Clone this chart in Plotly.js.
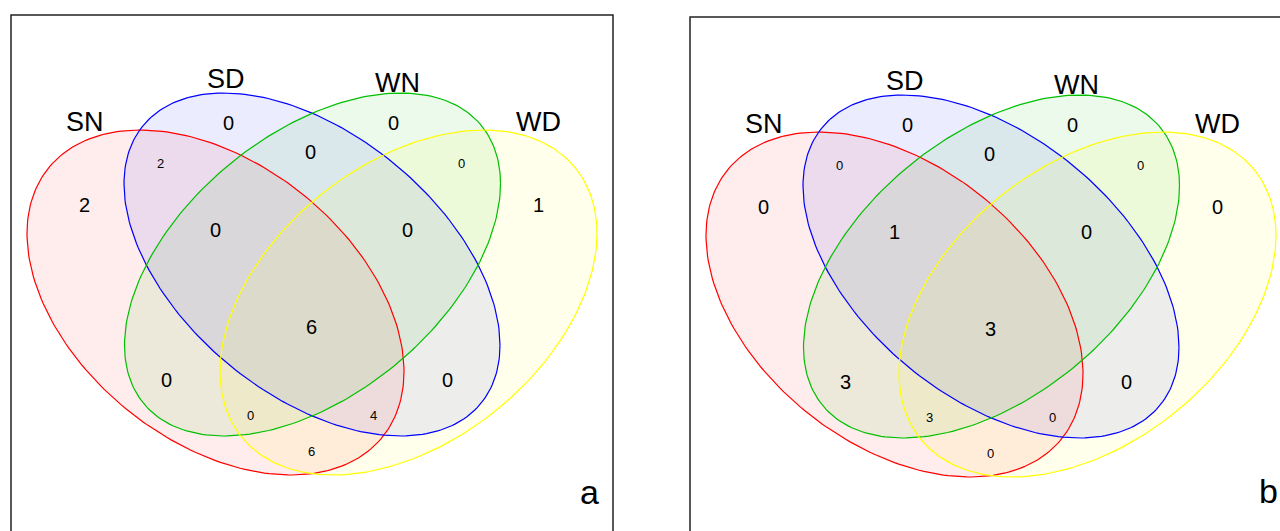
<!DOCTYPE html>
<html>
<head>
<meta charset="utf-8">
<script src="https://cdn.plot.ly/plotly-3.0.1.min.js"></script>
<style>html,body{margin:0;padding:0;background:#fff;}#chart{width:1280px;height:531px;}</style>
</head>
<body>
<div id="chart"></div>
<script>
// ---------------- DATA ----------------
const categories = ["SN", "SD", "WN", "WD"];
const regionNames = ["SD", "WN", "SN", "WD", "SN&SD", "SD&WN", "WN&WD", "SN&SD&WN", "SD&WN&WD",
                     "SN&SD&WN&WD", "SN&WN", "SD&WD", "SN&WN&WD", "SN&SD&WD", "SN&WD"];
const valuesA = [0, 0, 2, 1, 2, 0, 0, 0, 0, 6, 0, 0, 0, 4, 6];
const valuesB = [0, 0, 0, 0, 0, 0, 0, 1, 0, 3, 3, 0, 3, 0, 0];
const panelLetters = ["a", "b"];

// ---------------- GEOMETRY / STYLE ----------------
const setColors = ["#FF0000", "#0000FF", "#00C000", "#FFFF00"];
const fillAlpha = 0.075;
// ellipse: centre, x half-extent, y half-extent, phase cosine (tilt)
const ellipses = [
  {cx: 215.5, cy: 302.5, X: 188.5, Y: 172.5, c: 0.40},
  {cx: 312.0, cy: 264.5, X: 188.0, Y: 171.5, c: 0.47},
  {cx: 312.5, cy: 264.5, X: 188.0, Y: 171.5, c: -0.47},
  {cx: 408.5, cy: 302.5, X: 188.5, Y: 172.5, c: -0.40}
];
const catPos = [[84.5, 122], [226, 78.5], [397, 83], [538, 122]];
const regionPos = [[228.5,123],[393.5,123],[84,205],[538,205],[160.5,163],[310.5,152],[461.5,163],
                   [215.5,230],[407.5,230],[311,326.5],[166.5,379.5],[447.5,379.5],[250,415],[373.5,415],[311,451]];
const smallRegion = [false,false,false,false,true,false,true,false,false,false,false,false,true,true,true];
const panelOffsets = [[0, 0], [679, 2]];
const framePos = [[11, 15, 613], [690, 17, 1300]];
const letterPos = [[589, 492], [1268, 491]];

const FONT = "Liberation Sans, Arial, Helvetica, sans-serif";

function rgba(hex, a) {
  const r = parseInt(hex.slice(1,3),16), g = parseInt(hex.slice(3,5),16), b = parseInt(hex.slice(5,7),16);
  return `rgba(${r},${g},${b},${a})`;
}
function ellipsePts(e, off) {
  const phi = Math.acos(e.c);
  const xs = [], ys = [];
  const N = 240;
  for (let i = 0; i <= N; i++) {
    const t = 2 * Math.PI * i / N;
    xs.push(off[0] + e.cx + e.X * Math.cos(t));
    ys.push(off[1] + e.cy + e.Y * Math.cos(t - phi));
  }
  return {xs, ys};
}

const traces = [];
const annotations = [];
const shapes = [];
const panelValues = [valuesA, valuesB];

panelOffsets.forEach((off, p) => {
  // fills
  ellipses.forEach((e, i) => {
    const pts = ellipsePts(e, off);
    traces.push({type: "scatter", mode: "lines", x: pts.xs, y: pts.ys, fill: "toself",
      fillcolor: rgba(setColors[i], fillAlpha), line: {width: 0, color: "rgba(0,0,0,0)"},
      hoverinfo: "skip", showlegend: false});
  });
  // outlines
  ellipses.forEach((e, i) => {
    const pts = ellipsePts(e, off);
    traces.push({type: "scatter", mode: "lines", x: pts.xs, y: pts.ys,
      line: {width: 1.2, color: setColors[i]}, hoverinfo: "skip", showlegend: false});
  });
  // category labels
  categories.forEach((c, i) => {
    annotations.push({x: catPos[i][0] + off[0], y: catPos[i][1] + off[1], xref: "x", yref: "y",
      text: c, showarrow: false, xanchor: "center", yanchor: "middle",
      font: {family: FONT, size: 27, color: "#000"}});
  });
  // region counts
  panelValues[p].forEach((v, i) => {
    annotations.push({x: regionPos[i][0] + off[0], y: regionPos[i][1] + off[1], xref: "x", yref: "y",
      text: String(v), showarrow: false, xanchor: "center", yanchor: "middle",
      font: {family: FONT, size: smallRegion[i] ? 13 : 20, color: "#000"}});
  });
  // panel letter
  annotations.push({x: letterPos[p][0], y: letterPos[p][1], xref: "x", yref: "y",
    text: panelLetters[p], showarrow: false, xanchor: "center", yanchor: "middle",
    font: {family: FONT, size: 34, color: "#000"}});
  // frame
  const f = framePos[p];
  shapes.push({type: "rect", xref: "x", yref: "y", x0: f[0], x1: f[2], y0: f[1], y1: 560,
    line: {color: "#222", width: 1.5}, fillcolor: "rgba(0,0,0,0)"});
});

const layout = {
  width: 1280, height: 531,
  margin: {l: 0, r: 0, t: 0, b: 0},
  paper_bgcolor: "#fff", plot_bgcolor: "#fff",
  xaxis: {range: [0, 1280], visible: false, fixedrange: true},
  yaxis: {range: [531, 0], visible: false, fixedrange: true},
  showlegend: false,
  annotations: annotations,
  shapes: shapes
};

Plotly.newPlot("chart", traces, layout, {displayModeBar: false, staticPlot: true});
</script>
</body>
</html>
